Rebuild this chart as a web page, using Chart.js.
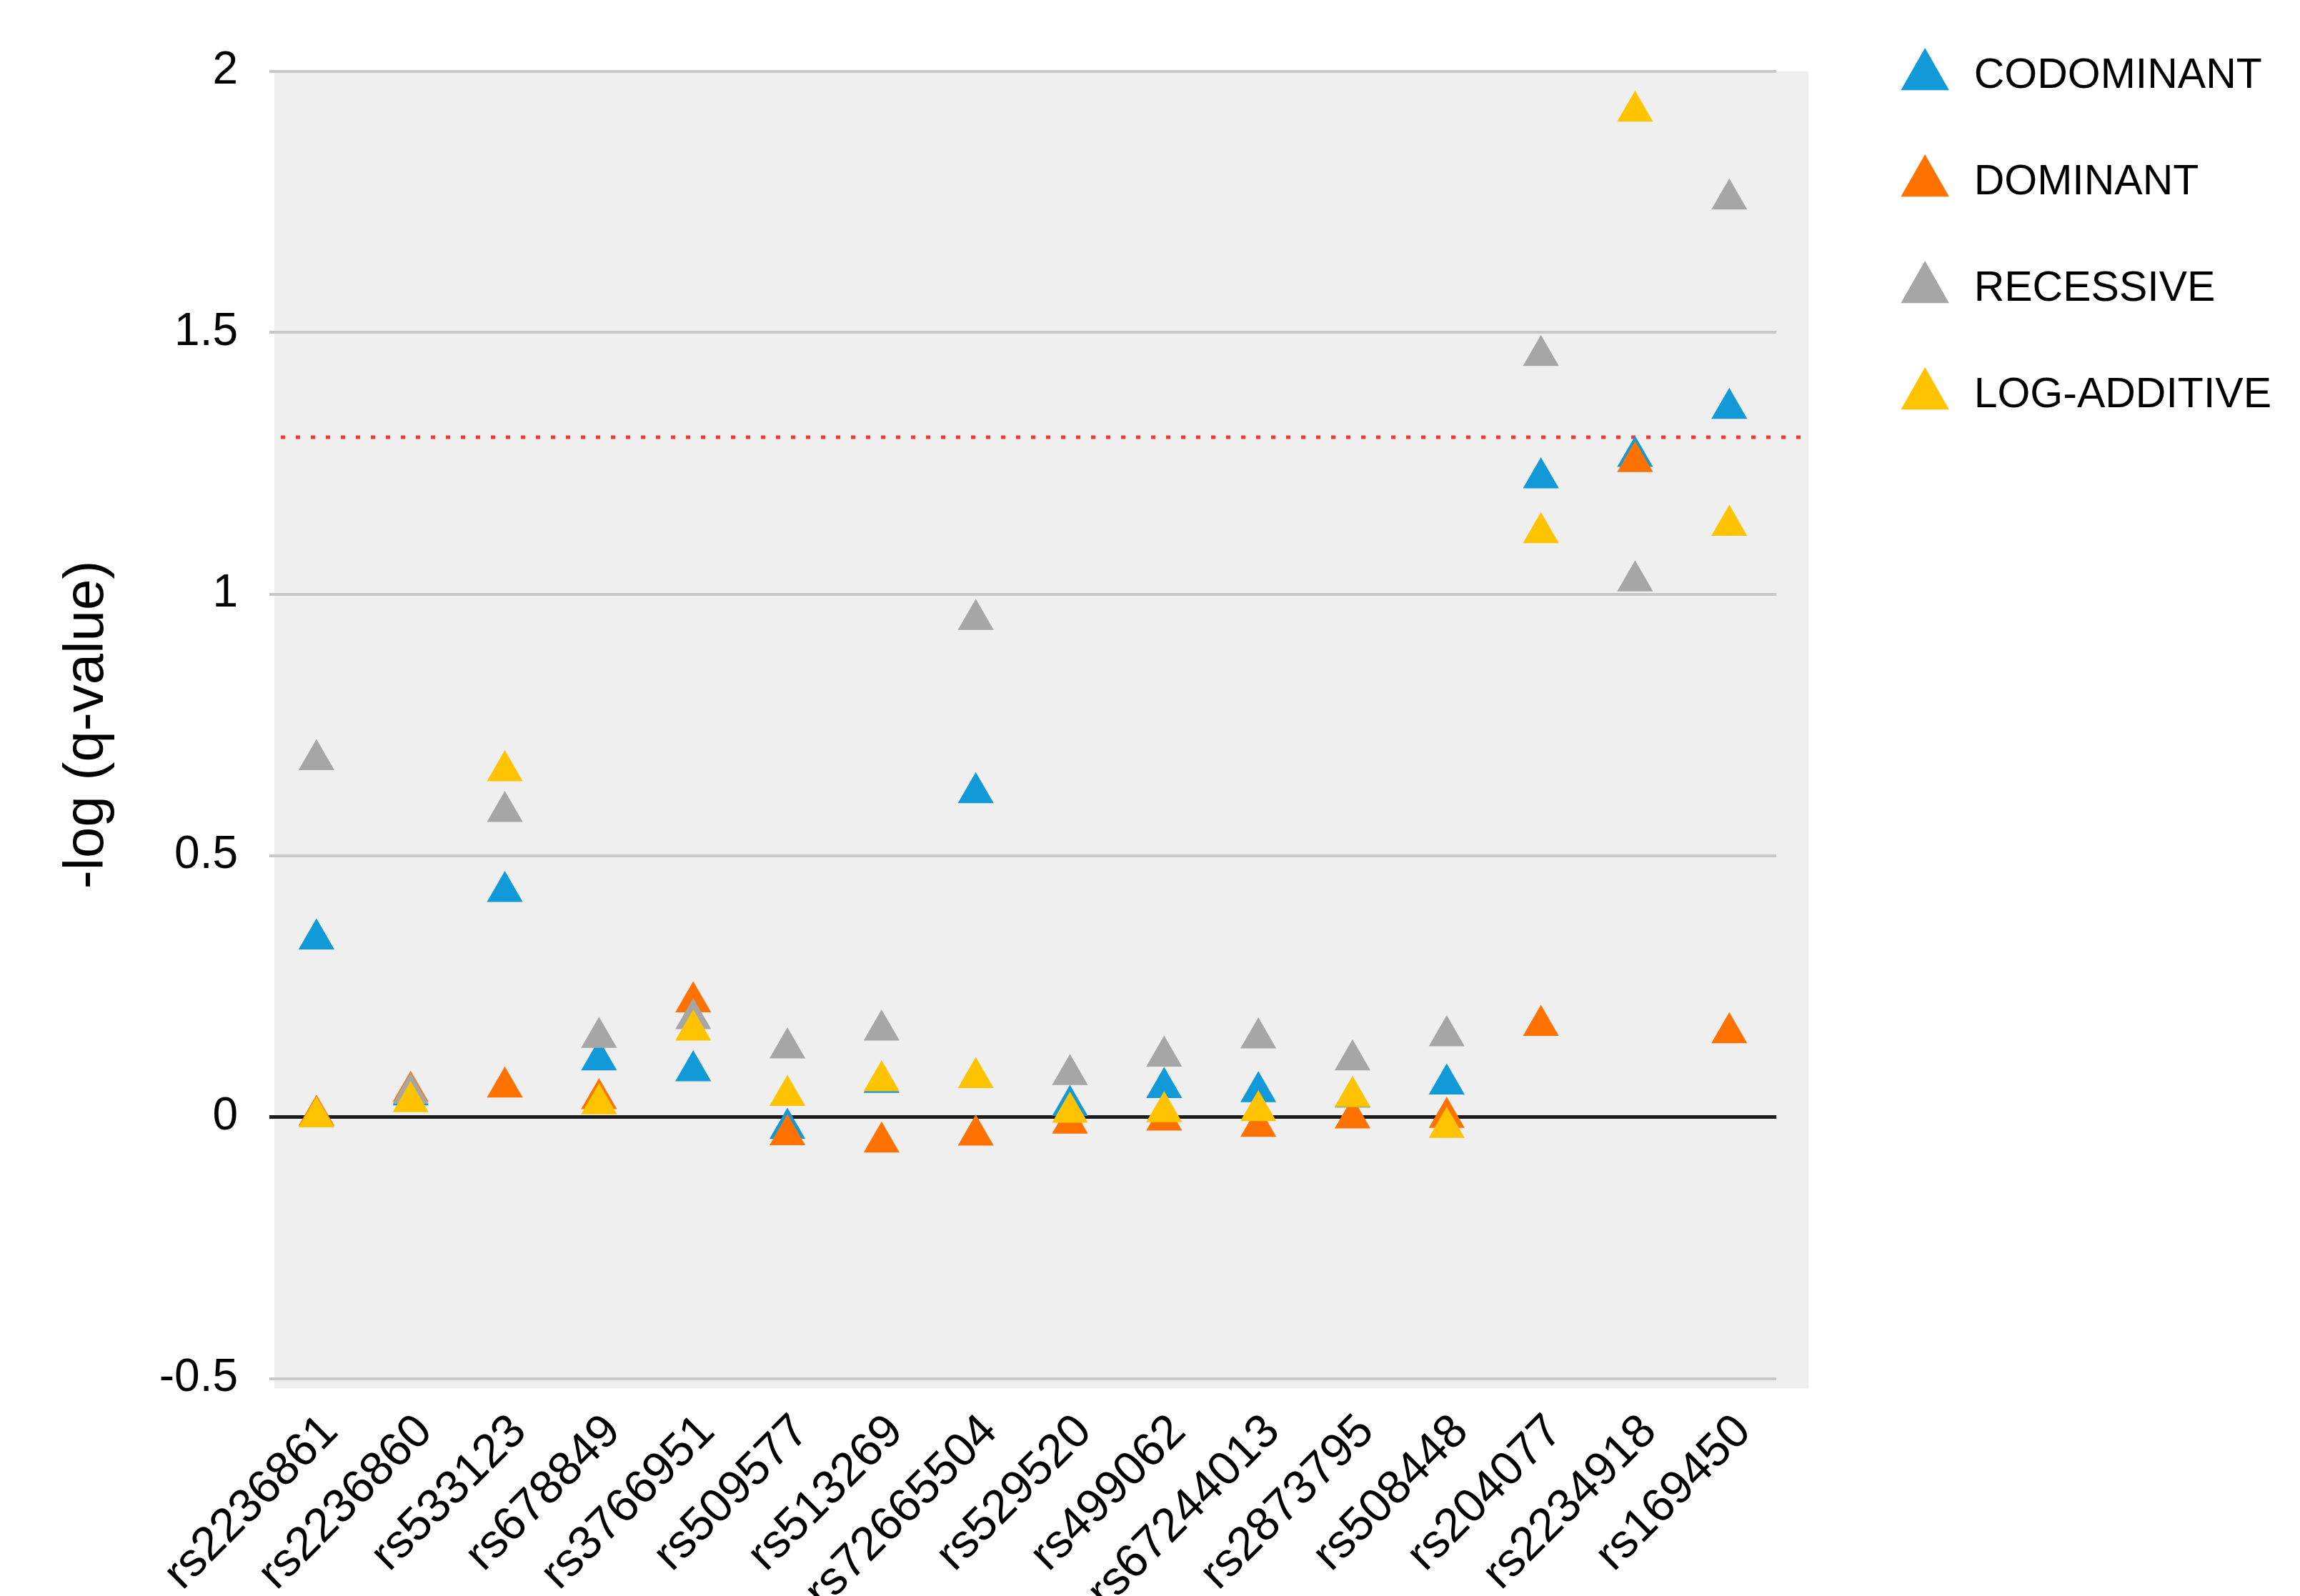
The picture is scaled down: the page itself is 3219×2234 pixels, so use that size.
<!DOCTYPE html>
<html lang="en">
<head>
<meta charset="UTF-8">
<title>-log (q-value) per SNP</title>
<script src="https://cdn.jsdelivr.net/npm/chart.js"></script>
<style>
  html, body { margin: 0; padding: 0; background: #fff; overflow: hidden; }
  /* shifted up a little so the legend rows line up with the reference */
  #wrap { position: absolute; left: 0; top: -13px; width: 3219px; height: 2247px; }
</style>
</head>
<body>
<div id="wrap"><canvas id="chart"></canvas></div>
<script>
const snps = ['rs2236861', 'rs2236860', 'rs533123', 'rs678849', 'rs3766951', 'rs509577',
              'rs513269', 'rs72665504', 'rs529520', 'rs499062', 'rs67244013', 'rs2873795',
              'rs508448', 'rs204077', 'rs2234918', 'rs169450'];

const codominant  = [0.34, 0.042, 0.431, 0.109, 0.088, -0.022, 0.066, 0.62, 0.022, 0.056, 0.048, 0.038, 0.063, 1.222, 1.263, 1.355];
const dominant    = [0.003, 0.049, 0.057, 0.035, 0.22, -0.034, -0.048, -0.035, -0.012, -0.006, -0.018, -0.002, -0.001, 0.175, 1.253, 0.161];
const recessive   = [0.683, 0.045, 0.584, 0.152, 0.188, 0.132, 0.166, 0.951, 0.081, 0.116, 0.151, 0.109, 0.155, 1.456, 1.025, 1.755];
const logAdditive = [0, 0.029, 0.662, 0.025, 0.166, 0.041, 0.069, 0.075, 0.009, 0.01, 0.012, 0.039, -0.02, 1.117, 1.923, 1.131];

// significance threshold, -log10(0.05)
const thresholdLine = 1.3;

const FONT = '"Liberation Sans", Arial, sans-serif';

// grey plot panel and the dotted red threshold line
const panelPlugin = {
  id: 'panel',
  beforeDraw(chart) {
    const { ctx, chartArea: a } = chart;
    ctx.save();
    ctx.fillStyle = '#efefef';
    ctx.fillRect(a.left + 7, a.top, (a.right + 45) - (a.left + 7), (a.bottom + 14) - a.top);
    ctx.restore();
  },
  beforeDatasetsDraw(chart) {
    const { ctx, chartArea: a, scales: { y } } = chart;
    const py = y.getPixelForValue(thresholdLine);
    ctx.save();
    ctx.strokeStyle = '#ff3333';
    ctx.lineWidth = 5;
    ctx.setLineDash([6, 15]);
    ctx.beginPath();
    ctx.moveTo(a.left + 16, py);
    ctx.lineTo(a.right + 45, py);
    ctx.stroke();
    ctx.restore();
  }
};

function series(label, data, color, order) {
  return {
    label: label,
    data: data,
    order: order,
    showLine: false,
    backgroundColor: color,
    borderColor: color,
    pointStyle: 'triangle',
    pointRadius: 29,
    pointBackgroundColor: color,
    pointBorderColor: color,
    pointBorderWidth: 0
  };
}

new Chart(document.getElementById('chart').getContext('2d'), {
  type: 'line',
  data: {
    labels: snps,
    datasets: [
      series('CODOMINANT', codominant, '#1199d8', 4),
      series('DOMINANT', dominant, '#ff7200', 3),
      series('RECESSIVE', recessive, '#a6a6a6', 2),
      series('LOG-ADDITIVE', logAdditive, '#ffc300', 1)
    ]
  },
  options: {
    responsive: true,
    maintainAspectRatio: false,
    animation: false,
    events: [],
    layout: { padding: { left: 0, right: 30, top: 0, bottom: 0 } },
    plugins: {
      tooltip: { enabled: false },
      // empty title only reserves the space above the plot
      title: { display: true, text: '', font: { size: 10, lineHeight: 1 }, padding: { top: 102.5, bottom: 0 } },
      legend: {
        position: 'right',
        align: 'start',
        maxWidth: 800,
        labels: {
          usePointStyle: true,
          pointStyleWidth: 78,
          boxHeight: 56,
          padding: 90,
          color: '#000',
          font: { family: FONT, size: 59 },
          sort: (a, b) => a.datasetIndex - b.datasetIndex
        }
      }
    },
    scales: {
      x: {
        offset: true,
        grid: { display: false },
        border: { display: false },
        ticks: {
          autoSkip: false,
          maxRotation: 45,
          minRotation: 45,
          padding: 28,
          labelOffset: 20,
          color: '#000',
          font: { family: FONT, size: 66 }
        },
        afterFit(s) { s.height = 304.5; }
      },
      y: {
        min: -0.5,
        max: 2,
        border: { display: false },
        grid: {
          drawTicks: false,
          color: c => c.tick.value === 0 ? '#1c1c1c' : '#c8c8c8',
          lineWidth: c => c.tick.value === 0 ? 5 : 4
        },
        ticks: {
          stepSize: 0.5,
          padding: 44,
          color: '#000',
          font: { family: FONT, size: 64 },
          callback: v => String(v)
        },
        title: {
          display: true,
          text: '-log (q-value)',
          color: '#000',
          font: { family: FONT, size: 78, lineHeight: 1 },
          padding: { top: 83, bottom: 0 }
        },
        afterFit(s) { s.width = 377; }
      },
      // spacer between the plot and the legend
      yGap: {
        position: 'right',
        grid: { display: false },
        border: { display: false },
        ticks: { display: false },
        afterFit(s) { s.width = 79; }
      }
    }
  },
  plugins: [panelPlugin]
});
</script>
</body>
</html>
